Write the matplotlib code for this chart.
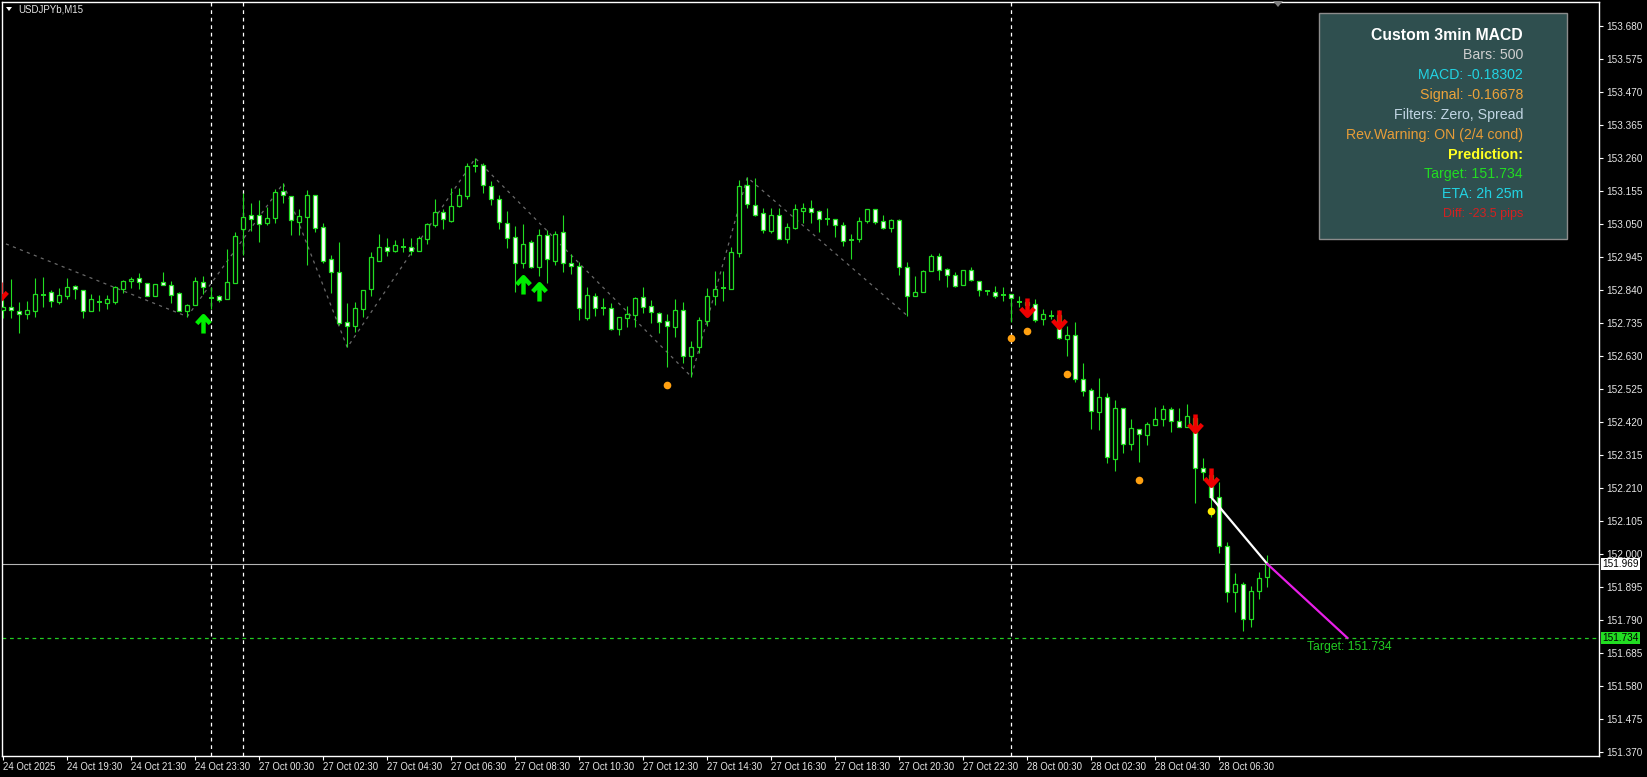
import matplotlib
matplotlib.use("Agg")
import matplotlib.pyplot as plt
from matplotlib.path import Path
from matplotlib.patches import Rectangle, Polygon
import numpy as np

plt.rcParams['font.family'] = ['Liberation Sans', 'DejaVu Sans']

# USDJPYb M15 candles (bar 0 = 24 Oct 17:30)
opens = [152.777, 152.786, 152.775, 152.765, 152.775, 152.824, 152.834, 152.804, 152.823, 152.853,
         152.840, 152.775, 152.803, 152.800, 152.804, 152.845, 152.870, 152.879, 152.864, 152.820,
         152.866, 152.857, 152.831, 152.775, 152.792, 152.866, 152.816, 152.820, 152.811, 152.862,
         153.034, 153.078, 153.078, 153.055, 153.071, 153.155, 153.139, 153.058, 153.074, 153.142,
         153.040, 152.938, 152.897, 152.739, 152.727, 152.781, 152.843, 152.934, 152.977, 152.966,
         152.979, 152.979, 152.966, 153.004, 153.049, 153.089, 153.061, 153.108, 153.141, 153.236,
         153.238, 153.173, 153.129, 153.053, 153.008, 152.926, 152.993, 152.913, 153.015, 152.934,
         153.024, 152.926, 152.917, 152.751, 152.823, 152.784, 152.782, 152.716, 152.753, 152.762,
         152.817, 152.790, 152.769, 152.742, 152.724, 152.777, 152.632, 152.660, 152.743, 152.823,
         152.846, 152.843, 152.959, 153.175, 153.110, 153.085, 153.029, 153.078, 153.004, 153.038,
         153.092, 153.101, 153.092, 153.068, 153.066, 153.047, 153.000, 153.004, 153.060, 153.098,
         153.059, 153.039, 153.062, 152.915, 152.821, 152.835, 152.900, 152.948, 152.908, 152.888,
         152.858, 152.904, 152.868, 152.839, 152.834, 152.825, 152.827, 152.804, 152.804, 152.795,
         152.748, 152.759, 152.761, 152.686, 152.697, 152.557, 152.522, 152.453, 152.499, 152.304,
         152.464, 152.350, 152.399, 152.378, 152.410, 152.431, 152.461, 152.423, 152.406, 152.432,
         152.275, 152.252, 152.181, 152.027, 151.879, 151.905, 151.795, 151.884, 151.926]

highs = [152.809, 152.876, 152.803, 152.806, 152.879, 152.883, 152.841, 152.846, 152.879, 152.857,
         152.841, 152.828, 152.824, 152.824, 152.853, 152.873, 152.882, 152.894, 152.864, 152.860,
         152.898, 152.868, 152.833, 152.796, 152.883, 152.885, 152.851, 152.825, 152.972, 153.026,
         153.148, 153.119, 153.127, 153.106, 153.162, 153.180, 153.139, 153.098, 153.159, 153.142,
         153.053, 152.951, 152.994, 152.798, 152.804, 152.841, 152.962, 153.019, 153.005, 153.000,
         153.005, 153.005, 153.013, 153.055, 153.129, 153.098, 153.164, 153.164, 153.246, 153.260,
         153.246, 153.189, 153.143, 153.092, 153.044, 153.051, 153.000, 153.034, 153.032, 153.029,
         153.079, 152.954, 152.929, 152.851, 152.830, 152.815, 152.798, 152.754, 152.790, 152.817,
         152.849, 152.809, 152.772, 152.764, 152.812, 152.802, 152.677, 152.756, 152.848, 152.901,
         152.901, 152.977, 153.191, 153.199, 153.196, 153.101, 153.101, 153.101, 153.055, 153.114,
         153.117, 153.127, 153.095, 153.101, 153.066, 153.057, 153.019, 153.072, 153.099, 153.099,
         153.079, 153.068, 153.066, 152.930, 152.885, 152.904, 152.955, 152.958, 152.912, 152.897,
         152.903, 152.913, 152.870, 152.841, 152.853, 152.851, 152.827, 152.822, 152.812, 152.811,
         152.779, 152.777, 152.777, 152.726, 152.738, 152.607, 152.528, 152.560, 152.512, 152.491,
         152.464, 152.429, 152.399, 152.421, 152.469, 152.474, 152.469, 152.465, 152.478, 152.437,
         152.305, 152.262, 152.230, 152.040, 151.941, 151.911, 151.899, 151.944, 151.997]

lows = [152.752, 152.751, 152.705, 152.748, 152.756, 152.788, 152.788, 152.796, 152.813, 152.812,
        152.753, 152.775, 152.775, 152.781, 152.796, 152.832, 152.848, 152.845, 152.820, 152.820,
        152.855, 152.800, 152.775, 152.756, 152.792, 152.828, 152.780, 152.803, 152.811, 152.862,
        152.951, 153.028, 152.994, 153.048, 153.055, 153.119, 153.017, 153.017, 152.920, 153.026,
        152.926, 152.832, 152.730, 152.658, 152.708, 152.756, 152.823, 152.934, 152.949, 152.961,
        152.962, 152.953, 152.966, 152.987, 153.042, 153.036, 153.056, 153.106, 153.131, 153.217,
        153.150, 153.111, 153.034, 152.975, 152.835, 152.910, 152.910, 152.885, 152.864, 152.920,
        152.899, 152.891, 152.745, 152.745, 152.758, 152.762, 152.713, 152.698, 152.722, 152.722,
        152.769, 152.737, 152.705, 152.597, 152.692, 152.607, 152.565, 152.641, 152.727, 152.793,
        152.807, 152.843, 152.947, 153.101, 153.076, 153.023, 153.021, 153.004, 152.989, 153.034,
        153.053, 153.055, 153.026, 153.048, 153.010, 152.981, 152.939, 152.994, 153.053, 153.052,
        153.034, 153.026, 152.888, 152.759, 152.821, 152.835, 152.900, 152.873, 152.851, 152.851,
        152.858, 152.870, 152.822, 152.825, 152.815, 152.807, 152.740, 152.788, 152.777, 152.740,
        152.729, 152.748, 152.685, 152.631, 152.549, 152.504, 152.398, 152.395, 152.291, 152.266,
        152.323, 152.331, 152.294, 152.347, 152.410, 152.408, 152.390, 152.406, 152.406, 152.164,
        152.236, 152.119, 152.005, 151.849, 151.817, 151.756, 151.767, 151.858, 151.897]

closes = [152.787, 152.776, 152.764, 152.776, 152.828, 152.824, 152.805, 152.825, 152.850, 152.843,
          152.775, 152.812, 152.803, 152.811, 152.850, 152.868, 152.877, 152.867, 152.820, 152.860,
          152.857, 152.826, 152.775, 152.792, 152.868, 152.851, 152.816, 152.810, 152.866, 153.012,
          153.072, 153.066, 153.052, 153.069, 153.153, 153.142, 153.064, 153.075, 153.142, 153.039,
          152.934, 152.897, 152.737, 152.727, 152.782, 152.840, 152.945, 152.977, 152.966, 152.984,
          152.979, 152.966, 153.005, 153.050, 153.089, 153.066, 153.107, 153.142, 153.235, 153.236,
          153.174, 153.129, 153.056, 153.007, 152.926, 152.986, 152.915, 153.015, 152.938, 153.019,
          152.926, 152.918, 152.784, 152.825, 152.784, 152.784, 152.716, 152.754, 152.764, 152.814,
          152.788, 152.772, 152.740, 152.727, 152.777, 152.632, 152.658, 152.745, 152.822, 152.843,
          152.846, 152.961, 153.172, 153.113, 153.079, 153.032, 153.079, 153.004, 153.040, 153.098,
          153.102, 153.090, 153.068, 153.068, 153.049, 152.998, 153.000, 153.059, 153.098, 153.058,
          153.039, 153.064, 152.915, 152.822, 152.833, 152.901, 152.948, 152.905, 152.889, 152.853,
          152.903, 152.873, 152.840, 152.839, 152.823, 152.825, 152.816, 152.804, 152.793, 152.745,
          152.764, 152.759, 152.689, 152.697, 152.559, 152.520, 152.457, 152.499, 152.308, 152.464,
          152.350, 152.401, 152.381, 152.414, 152.429, 152.461, 152.423, 152.406, 152.440, 152.275,
          152.262, 152.181, 152.027, 151.879, 151.905, 151.795, 151.884, 151.923, 151.969]

time_ticks = list(range(0, 153, 8))
time_labels = ["24 Oct 2025", "24 Oct 19:30", "24 Oct 21:30", "24 Oct 23:30", "27 Oct 00:30",
               "27 Oct 02:30", "27 Oct 04:30", "27 Oct 06:30", "27 Oct 08:30", "27 Oct 10:30",
               "27 Oct 12:30", "27 Oct 14:30", "27 Oct 16:30", "27 Oct 18:30", "27 Oct 20:30",
               "27 Oct 22:30", "28 Oct 00:30", "28 Oct 02:30", "28 Oct 04:30", "28 Oct 06:30"]
price_ticks = [151.370 + 0.105 * k for k in range(23)]

separators = [26, 30, 126]

# zigzag swing points (bar, price)
zz_bars = [-6, 23, 35, 43, 59, 86, 93, 113]
zz_prices = [153.052, 152.756, 153.180, 152.658, 153.260, 152.565, 153.199, 152.759]

buy_bars = [25, 65, 67]
buy_prices = [152.732, 152.858, 152.835]
sell_bars = [-0.4, 128, 132, 149, 151]
sell_prices = [152.836, 152.785, 152.748, 152.417, 152.245]

warn_bars = [83, 126, 128, 133, 142]
warn_prices = [152.538, 152.689, 152.710, 152.574, 152.236]
yellow_bars = [151]
yellow_prices = [152.137]

bid = 151.969
target = 151.734
proj_bars = [151, 158]
proj_prices = [152.181, bid]
pred_bars = [158, 168]
pred_prices = [bid, target]

panel_lines = ["Custom 3min MACD", "Bars: 500", "MACD: -0.18302", "Signal: -0.16678",
               "Filters: Zero, Spread", "Rev.Warning: ON (2/4 cond)", "Prediction:",
               "Target: 151.734", "ETA: 2h 25m", "Diff: -23.5 pips"]
panel_colors = ["white", "#cfcfcf", "#22d3e3", "#eea33a", "#c2d6e4", "#e89d38", "#ffff22",
                "#22dd22", "#22d3e3", "#d42020"]
panel_sizes = [11.3, 10.2, 10.2, 10.2, 10.2, 10.2, 10.4, 10.2, 10.2, 9]

GREEN = "#22dd22"
W, H = 1647, 777

fig = plt.figure(figsize=(W / 100, H / 100), dpi=100, facecolor="black")
ax = fig.add_axes([2 / W, 1 - 756 / H, 1597 / W, 754 / H])
ax.set_facecolor("black")

x = np.arange(len(opens))
ax.vlines(x, lows, highs, color=GREEN, lw=0.8, zorder=3)
for i in x:
    o, c = opens[i], closes[i]
    if abs(o - c) < 0.002:
        ax.hlines(c, i - 0.3, i + 0.3, color=GREEN, lw=1.4, zorder=4)
    else:
        fc = "black" if c > o else "white"
        ax.add_patch(Rectangle((i - 0.25, min(o, c)), 0.5, abs(c - o), facecolor=fc,
                               edgecolor=GREEN, lw=0.9, zorder=4))

for b in separators:
    ax.axvline(b, color="white", lw=0.9, ls=(0, (3, 3)), zorder=2)

ax.plot(zz_bars, zz_prices, color="#6a6a6a", lw=0.9, ls=(0, (2.5, 3.5)), zorder=2)

ax.axhline(bid, color="#b4b4b4", lw=0.8, zorder=2)
ax.axhline(target, color="#22cc22", lw=0.9, ls=(0, (3, 3)), zorder=2)

ax.plot(proj_bars, proj_prices, color="white", lw=1.6, zorder=6)
ax.plot(pred_bars, pred_prices, color="#e81ee8", lw=1.6, zorder=6)
ax.text(162.96, 151.705, "Target: 151.734", color="#22cc22", fontsize=8.8, va="center", ha="left")

up = Path([(0, -1), (0, 0.85), (-0.75, 0.1), (0, 0.92), (0.75, 0.1)],
          [Path.MOVETO, Path.LINETO, Path.MOVETO, Path.LINETO, Path.LINETO])
down = Path([(0, 1), (0, -0.85), (-0.75, -0.1), (0, -0.92), (0.75, -0.1)],
            [Path.MOVETO, Path.LINETO, Path.MOVETO, Path.LINETO, Path.LINETO])
ax.plot(buy_bars, buy_prices, ls="none", marker=up, ms=13, mfc="none", mec="#00ee00", mew=3.2, zorder=7)
ax.plot(sell_bars, sell_prices, ls="none", marker=down, ms=13, mfc="none", mec="#ee0000", mew=3.2, zorder=7)
ax.plot(warn_bars, warn_prices, ls="none", marker="o", ms=5.5, mfc="#ffa010", mew=0, zorder=7)
ax.plot(yellow_bars, yellow_prices, ls="none", marker="o", ms=5.5, mfc="#ffee00", mew=0, zorder=7)

ax.set_xlim(-0.16, 199.46)
ax.set_ylim(151.358, 153.757)

for s in ax.spines.values():
    s.set_color("white")
    s.set_linewidth(1)

ax.yaxis.tick_right()
ax.set_yticks(price_ticks)
ax.set_yticklabels([f"{p:.3f}" for p in price_ticks])
ax.tick_params(axis="y", colors="white", labelcolor="#e6e6e6", length=3, width=0.8, labelsize=7.2, pad=2)
ax.set_xticks(time_ticks)
ax.set_xticklabels(time_labels, ha="left")
ax.tick_params(axis="x", colors="white", labelcolor="#e6e6e6", length=3, width=0.8, labelsize=6.9, pad=1)

ax.annotate(f"{bid:.3f}", xy=(1.0, bid), xycoords=("axes fraction", "data"), xytext=(2.5, 0),
            textcoords="offset points", va="center", ha="left", fontsize=7.2, color="black",
            bbox=dict(boxstyle="square,pad=0.12", fc="white", ec="none"), zorder=10)
ax.annotate(f"{target:.3f}", xy=(1.0, target), xycoords=("axes fraction", "data"), xytext=(2.5, 0),
            textcoords="offset points", va="center", ha="left", fontsize=7.2, color="black",
            bbox=dict(boxstyle="square,pad=0.12", fc="#22dd22", ec="none"), zorder=10)

# symbol caption and chart shift marker
fig.patches.append(Polygon([(6 / W, 1 - 7 / H), (12 / W, 1 - 7 / H), (9 / W, 1 - 11 / H)],
                           closed=True, transform=fig.transFigure, fc="white", ec="none"))
fig.text(18 / W, 1 - 9.5 / H, "USDJPYb,M15", color="#e6e6e6", fontsize=7, va="center", ha="left")
fig.patches.append(Polygon([(1273 / W, 1 - 1 / H), (1283 / W, 1 - 1 / H), (1278 / W, 1 - 7 / H)],
                           closed=True, transform=fig.transFigure, fc="#808080", ec="none", zorder=5))

# info panel
fig.patches.append(Rectangle((1319 / W, 1 - 239 / H), 248 / W, 226.5 / H, transform=fig.transFigure,
                             fc="#2f4f4f", ec="#8c8c8c", lw=1, zorder=5))
for k, (txt, col, size) in enumerate(zip(panel_lines, panel_colors, panel_sizes)):
    bold = k in (0, 6)
    fig.text(1523 / W, 1 - (35.6 + 19.84 * k) / H, txt, color=col, fontsize=size,
             fontweight="bold" if bold else "normal", ha="right", va="center", zorder=6)

fig.savefig("out.png", dpi=100, facecolor="black")
